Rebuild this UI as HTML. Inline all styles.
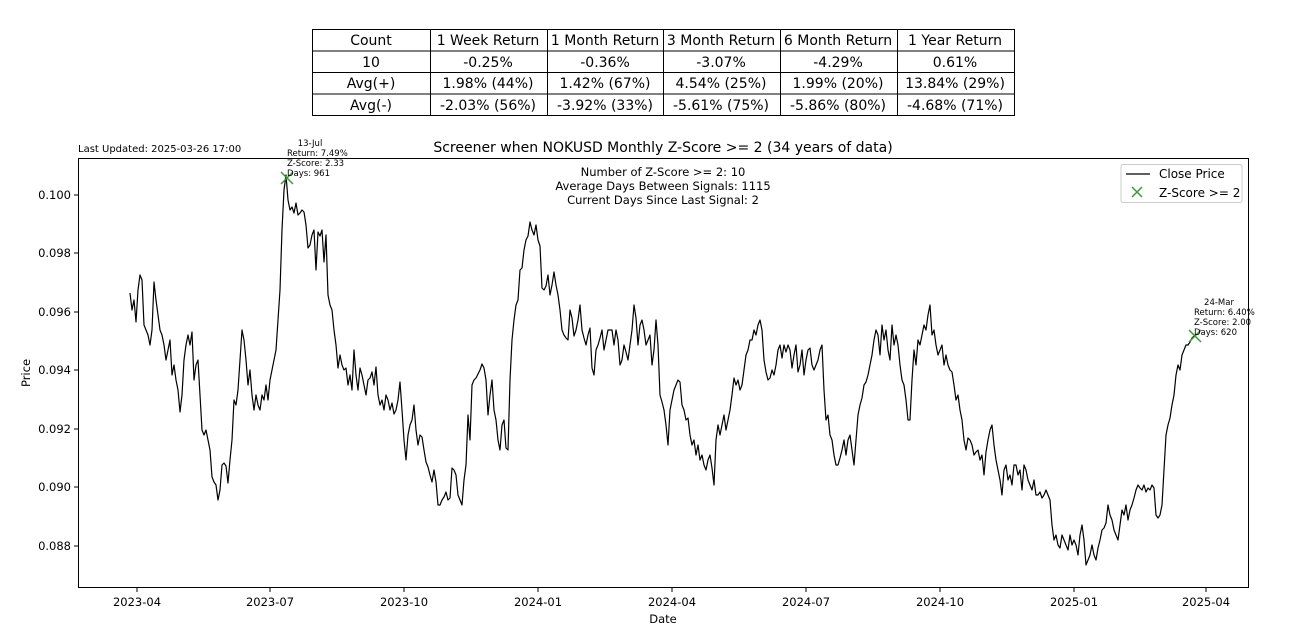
<!DOCTYPE html>
<html><head><meta charset="utf-8"><style>
body{margin:0;background:#fff;width:1292px;height:634px;overflow:hidden;font-family:"DejaVu Sans","Liberation Sans",sans-serif}
</style></head><body>
<svg width="1292" height="634" xmlns="http://www.w3.org/2000/svg" font-family="DejaVu Sans, Liberation Sans, sans-serif">
<g stroke="#000" stroke-width="1" fill="none">
<rect x="312.5" y="29.5" width="702" height="86"/>
<line x1="312" y1="51" x2="1014" y2="51"/><line x1="312" y1="72.5" x2="1014" y2="72.5"/><line x1="312" y1="94" x2="1014" y2="94"/>
<line x1="430.5" y1="29" x2="430.5" y2="115"/><line x1="547.5" y1="29" x2="547.5" y2="115"/><line x1="663.5" y1="29" x2="663.5" y2="115"/><line x1="780.5" y1="29" x2="780.5" y2="115"/><line x1="897.5" y1="29" x2="897.5" y2="115"/>
</g>
<g font-size="14" text-anchor="middle" fill="#000">
<text x="371" y="45">Count</text><text x="488" y="45">1 Week Return</text><text x="605" y="45">1 Month Return</text><text x="721" y="45">3 Month Return</text><text x="838" y="45">6 Month Return</text><text x="955" y="45">1 Year Return</text>
<text x="371" y="67">10</text><text x="488" y="67">-0.25%</text><text x="605" y="67">-0.36%</text><text x="721" y="67">-3.07%</text><text x="838" y="67">-4.29%</text><text x="955" y="67">0.61%</text>
<text x="371" y="88">Avg(+)</text><text x="488" y="88">1.98% (44%)</text><text x="605" y="88">1.42% (67%)</text><text x="721" y="88">4.54% (25%)</text><text x="838" y="88">1.99% (20%)</text><text x="955" y="88">13.84% (29%)</text>
<text x="371" y="110">Avg(-)</text><text x="488" y="110">-2.03% (56%)</text><text x="605" y="110">-3.92% (33%)</text><text x="721" y="110">-5.61% (75%)</text><text x="838" y="110">-5.86% (80%)</text><text x="955" y="110">-4.68% (71%)</text>
</g>
<text x="78" y="152" font-size="10">Last Updated: 2025-03-26 17:00</text>
<text x="663" y="152" font-size="14" text-anchor="middle">Screener when NOKUSD Monthly Z-Score &gt;= 2 (34 years of data)</text>
<rect x="78.5" y="158.5" width="1170" height="429" fill="none" stroke="#000"/>
<g font-size="11.5" text-anchor="middle">
<text x="663" y="176">Number of Z-Score &gt;= 2: 10</text>
<text x="663" y="190">Average Days Between Signals: 1115</text>
<text x="663" y="204">Current Days Since Last Signal: 2</text>
</g>
<g stroke="#000"><line x1="137" y1="588" x2="137" y2="592"/><line x1="270" y1="588" x2="270" y2="592"/><line x1="404" y1="588" x2="404" y2="592"/><line x1="538" y1="588" x2="538" y2="592"/><line x1="672" y1="588" x2="672" y2="592"/><line x1="806" y1="588" x2="806" y2="592"/><line x1="940" y1="588" x2="940" y2="592"/><line x1="1074" y1="588" x2="1074" y2="592"/><line x1="1206" y1="588" x2="1206" y2="592"/>
<line x1="74" y1="195" x2="78" y2="195"/><line x1="74" y1="253" x2="78" y2="253"/><line x1="74" y1="312" x2="78" y2="312"/><line x1="74" y1="370" x2="78" y2="370"/><line x1="74" y1="429" x2="78" y2="429"/><line x1="74" y1="487" x2="78" y2="487"/><line x1="74" y1="546" x2="78" y2="546"/></g>
<g font-size="11.5" text-anchor="middle"><text x="137" y="606">2023-04</text><text x="270" y="606">2023-07</text><text x="404" y="606">2023-10</text><text x="538" y="606">2024-01</text><text x="672" y="606">2024-04</text><text x="806" y="606">2024-07</text><text x="940" y="606">2024-10</text><text x="1074" y="606">2025-01</text><text x="1206" y="606">2025-04</text>
<text x="663" y="623">Date</text></g>
<g font-size="11.5" text-anchor="end"><text x="71" y="199">0.100</text><text x="71" y="257">0.098</text><text x="71" y="316">0.096</text><text x="71" y="374">0.094</text><text x="71" y="433">0.092</text><text x="71" y="491">0.090</text><text x="71" y="550">0.088</text></g>
<text x="30" y="373" font-size="11.5" text-anchor="middle" transform="rotate(-90 30 373)">Price</text>
<polyline fill="none" stroke="#000" stroke-width="1.2" stroke-linejoin="round" points="130,293 132,310 134,300 136,322 138,290 140,275 142,280 144,325 146,330 148,335 150,345 152,330 154,282 156,300 158,315 160,330 162,335 164,345 166,360 168,350 170,340 172,375 174,365 176,380 178,390 180,412 182,395 184,360 186,345 188,335 190,345 192,332 194,380 196,365 198,360 200,395 202,430 204,435 206,430 208,440 210,450 212,477 214,482 216,485 218,500 220,490 222,465 224,463 226,466 228,483 230,460 232,440 234,400 236,405 238,390 240,360 242,330 244,340 246,360 248,385 250,370 252,395 254,410 256,395 258,405 260,410 262,395 264,400 266,385 268,400 270,380 272,370 274,360 276,350 278,320 280,290 282,230 284,190 286,175 288,200 290,210 292,207 294,213 296,203 298,215 300,213 302,210 304,212 306,225 308,248 310,245 312,235 314,230 316,270 318,232 320,236 322,230 324,262 326,235 328,295 330,305 332,310 334,330 336,345 338,368 340,355 342,365 344,370 346,368 348,385 350,375 352,390 354,350 356,375 358,390 360,368 362,375 364,385 366,395 368,380 370,378 372,372 374,385 376,367 378,395 380,405 382,400 384,410 386,395 388,400 390,410 392,403 394,414 396,410 398,400 400,382 402,410 404,440 406,460 408,435 410,425 412,420 414,405 416,430 418,445 420,435 422,437 424,450 426,462 428,467 430,475 432,482 434,470 436,482 438,505 440,505 442,500 444,497 446,492 448,500 450,498 452,468 454,470 456,475 458,495 460,500 462,505 464,480 466,465 468,415 470,440 472,385 474,380 476,378 478,374 480,370 482,364 484,368 486,380 488,415 490,395 492,380 494,410 496,420 498,440 500,450 502,425 504,420 506,448 508,450 510,380 512,340 514,320 516,305 518,300 520,270 522,268 524,250 526,240 528,236 530,222 532,230 534,235 536,225 538,240 540,246 542,288 544,290 546,286 548,275 550,295 552,285 554,272 556,285 558,295 560,310 562,330 564,335 566,338 568,340 570,310 572,318 574,336 576,330 578,320 580,305 582,330 584,338 586,345 588,335 590,328 592,368 594,375 596,350 598,345 600,338 602,330 604,350 606,340 608,330 610,330 612,330 614,345 616,330 618,340 620,365 622,360 624,345 626,352 628,360 630,345 632,330 634,305 636,318 638,345 640,325 642,320 644,330 646,345 648,340 650,335 652,365 654,350 656,320 658,345 660,395 662,402 664,410 666,425 668,445 670,410 672,400 674,390 676,385 678,380 680,382 682,405 684,410 686,420 688,418 690,435 692,445 694,440 696,455 698,445 700,460 702,455 704,465 706,470 708,460 710,455 712,468 714,485 716,440 718,425 720,435 722,425 724,415 726,430 728,420 730,410 732,395 734,378 736,385 738,380 740,390 742,385 744,370 746,355 748,350 750,340 752,340 754,330 756,335 758,325 760,320 762,330 764,360 766,372 768,380 770,378 772,370 774,375 776,365 778,350 780,345 782,358 784,345 786,352 788,345 790,350 792,368 794,355 796,345 798,372 800,365 802,350 804,375 806,360 808,350 810,348 812,365 814,370 816,365 818,360 820,350 822,345 824,390 826,420 828,415 830,435 832,440 834,455 836,465 838,465 840,458 842,450 844,440 846,455 848,440 850,435 852,450 854,465 856,440 858,415 860,405 862,398 864,385 866,382 868,375 870,365 872,355 874,340 876,330 878,335 880,355 882,325 884,340 886,330 888,350 890,360 892,325 894,345 896,335 898,345 900,365 902,380 904,385 906,400 908,420 910,420 912,380 914,350 916,365 918,340 920,345 922,335 924,325 926,330 928,315 930,305 932,335 934,330 936,345 938,355 940,350 942,345 944,365 946,355 948,365 950,370 952,372 954,385 956,400 958,395 960,410 962,420 964,440 966,450 968,438 970,440 972,445 974,455 976,452 978,450 980,460 982,455 984,475 986,452 988,440 990,430 992,425 994,445 996,460 998,470 1000,480 1002,495 1004,470 1006,465 1008,480 1010,475 1012,485 1014,465 1016,465 1018,475 1020,470 1022,490 1024,465 1026,470 1028,480 1030,485 1032,490 1034,480 1036,495 1038,495 1040,492 1042,498 1044,495 1046,490 1048,495 1050,500 1052,525 1054,540 1056,535 1058,545 1060,548 1062,535 1064,540 1066,545 1068,550 1070,535 1072,545 1074,540 1076,545 1078,555 1080,535 1082,525 1084,540 1086,565 1088,560 1090,555 1092,545 1094,555 1096,560 1098,548 1100,540 1102,530 1104,528 1106,523 1108,505 1110,515 1112,520 1114,530 1116,535 1118,540 1120,525 1122,510 1124,515 1126,505 1128,520 1130,510 1132,505 1134,498 1136,490 1138,485 1140,488 1142,490 1144,485 1146,492 1148,488 1150,490 1152,485 1154,488 1156,515 1158,518 1160,515 1162,505 1164,470 1166,435 1168,425 1170,418 1172,405 1174,395 1176,375 1178,365 1180,370 1182,355 1184,350 1186,345 1188,345 1190,342 1192,338 1194,336 1196,336"/>
<g stroke="#3a9a3a" stroke-width="1.5"><path d="M281,172 l12,12 M293,172 l-12,12"/><path d="M1189,330 l12,12 M1201,330 l-12,12"/></g>
<g font-size="8.5" fill="#000">
<text x="310" y="146" text-anchor="middle">13-Jul</text><text x="287" y="156">Return: 7.49%</text><text x="287" y="166">Z-Score: 2.33</text><text x="287" y="176">Days: 961</text>
<text x="1219" y="305" text-anchor="middle">24-Mar</text><text x="1194" y="315">Return: 6.40%</text><text x="1194" y="325">Z-Score: 2.00</text><text x="1194" y="335">Days: 620</text>
</g>
<rect x="1121" y="164.5" width="121" height="38" rx="2" fill="#fff" stroke="#ccc"/>
<line x1="1126" y1="174" x2="1150" y2="174" stroke="#000" stroke-width="1.2"/>
<text x="1159" y="178" font-size="12">Close Price</text>
<path d="M1132,187 l10,10 M1142,187 l-10,10" stroke="#3a9a3a" stroke-width="1.5"/>
<text x="1159" y="197" font-size="12">Z-Score &gt;= 2</text>
</svg>
</body></html>
